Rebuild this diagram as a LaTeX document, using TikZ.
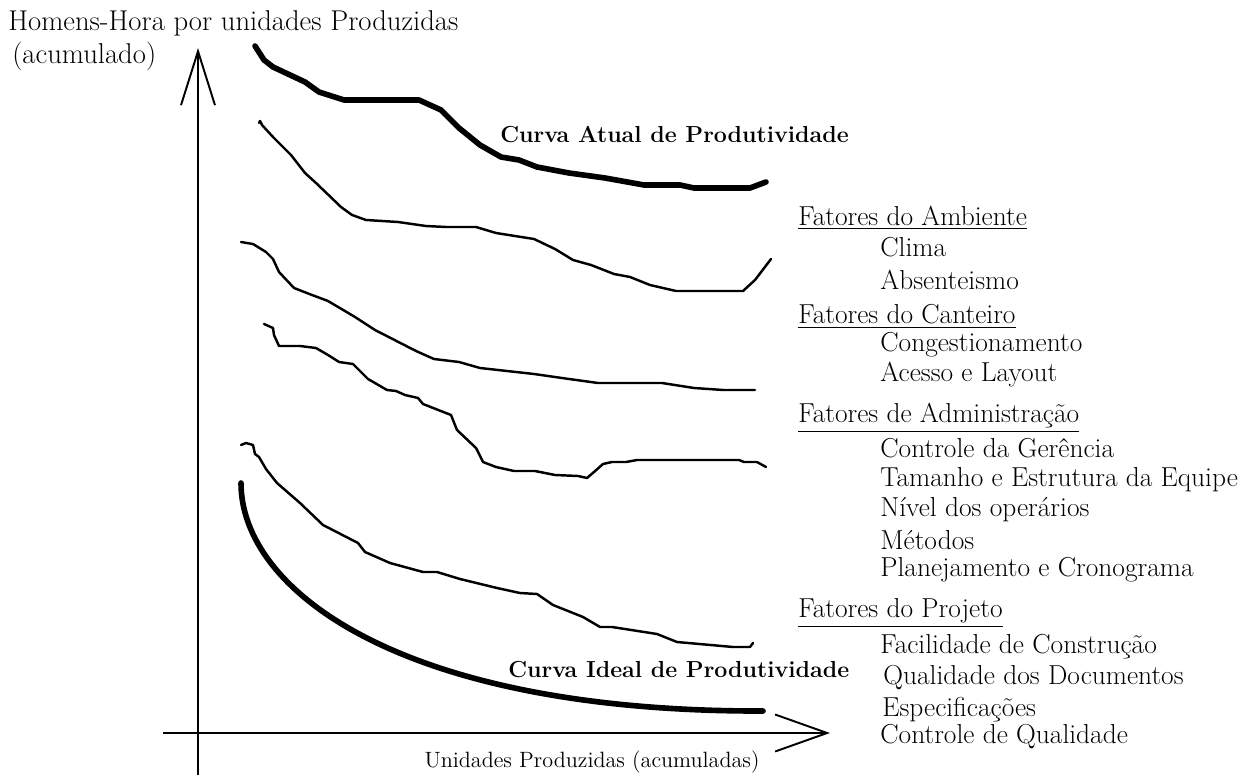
\documentclass[tikz,border=0pt]{standalone}
\usepackage{amsmath}
\usepackage{tikz}
\usetikzlibrary{arrows.meta,positioning}
\newcommand{\fonte}{\fontsize{15.6}{17}\selectfont}
\newcommand{\fontetit}{\fontsize{16.3}{18}\selectfont}
\newcommand{\fonteeixo}{\fontsize{12.6}{15}\selectfont}
\newcommand{\fontecurva}{\fontsize{13.2}{16}\selectfont\bfseries}

\begin{document}
\begin{tikzpicture}[x=0.02cm,y=-0.02cm,
	eixo/.style={line width=1.1pt},
	curva/.style={line width=1.4pt,line join=round,line cap=round},
	grossa/.style={line width=3.2pt,line join=round,line cap=round},
	texto/.style={anchor=west,inner sep=0pt,font=\fonte},
	fator/.style={texto},
	item/.style={texto}]
	\useasboundingbox (0,0) rectangle (1239,776);
	
	% eixos
	\coordinate (ybase) at (198,775);
	\coordinate (ytopo) at (198,48);
	\coordinate (xbase) at (163,733);
	\coordinate (xtopo) at (830,733);
	\draw[eixo,-{Straight Barb[length=1.08cm,width=0.68cm]}] (ybase) -- (ytopo);
	\draw[eixo,-{Straight Barb[length=1.04cm,width=0.74cm]}] (xbase) -- (xtopo);
	\node[texto,font=\fontetit] (ytit) at (8,23) {Homens-Hora por unidades Produzidas};
	\node[texto,font=\fontetit] (ytit2) at (12,56) {(acumulado)};
	\node[font=\fonteeixo,inner sep=0pt] (xtit) at (592,762) {Unidades Produzidas (acumuladas)};
	
	% curva atual
	\draw[grossa] (255,46) -- (264,60) -- (273,67) -- (305,82) -- (319,92) -- (344,100)
		-- (419,100) -- (441,110) -- (459,128) -- (480,145) -- (501,157) -- (519,160)
		-- (537,167) -- (569,173) -- (605,178) -- (644,185) -- (680,185) -- (694,188)
		-- (750,188) -- (766,182);
	\node[texto,font=\fontecurva] (atual) at (500,135) {Curva Atual de Produtividade};
	
	% fatores do ambiente
	\draw[curva] (259,123) -- (260,121) -- (262,125) -- (273,137) -- (291,155) -- (305,173)
		-- (316,183) -- (341,207) -- (352,215) -- (366,220) -- (398,222) -- (426,226)
		-- (446,227) -- (476,227) -- (496,233) -- (534,239) -- (555,249) -- (573,260)
		-- (591,265) -- (614,274) -- (630,277) -- (650,285) -- (676,291) -- (743,291)
		-- (755,280) -- (771,259);
	
	% fatores do canteiro
	\draw[curva] (241,242) -- (253,244) -- (266,252) -- (273,259) -- (279,272) -- (294,288)
		-- (312,295) -- (328,301) -- (355,317) -- (375,330) -- (416,351) -- (434,359)
		-- (459,362) -- (480,368) -- (516,372) -- (534,374) -- (569,379) -- (598,383)
		-- (662,383) -- (694,388) -- (723,390) -- (755,390);
	
	% fatores de administracao
	\draw[curva] (264,324) -- (273,328) -- (274,335) -- (279,346) -- (300,346) -- (316,348)
		-- (328,355) -- (339,362) -- (353,364) -- (368,379) -- (387,390) -- (396,391)
		-- (405,395) -- (418,398) -- (423,404) -- (451,415) -- (457,430) -- (476,448)
		-- (483,462) -- (496,467) -- (514,471) -- (535,471) -- (555,475) -- (578,476)
		-- (587,478) -- (594,472) -- (603,464) -- (612,462) -- (626,462) -- (637,460)
		-- (739,460) -- (744,462) -- (757,462) -- (766,467);
	
	% fatores do projeto
	\draw[curva] (241,445) -- (246,443) -- (253,445) -- (255,454) -- (259,457) -- (266,469)
		-- (277,483) -- (300,503) -- (323,525) -- (358,543) -- (365,552) -- (390,563)
		-- (423,572) -- (437,572) -- (460,579) -- (497,588) -- (520,593) -- (537,594)
		-- (553,605) -- (583,617) -- (600,627) -- (612,627) -- (657,634) -- (677,642)
		-- (733,647) -- (750,647) -- (753,643);
	
	% curva ideal
	\draw[grossa] (241,483) .. controls (241,590) and (400,712) .. (763,711);
	\node[texto,font=\fontecurva] (ideal) at (508,670) {Curva Ideal de Produtividade};
	
	% lista de fatores
	\node[fator] (amb) at (798,218) {\underline{Fatores do Ambiente}};
	\node[item] (clima) at (880,247) {Clima};
	\node[item] (abs) at (880,280) {Absenteismo};
	\node[fator] (cant) at (798,317) {\underline{Fatores do Canteiro}};
	\node[item] (cong) at (880,345) {Congestionamento};
	\node[item] (aces) at (880,375) {Acesso e Layout};
	\node[fator] (adm) at (798,418) {\underline{Fatores de Administração}};
	\node[item] (ger) at (880,448) {Controle da Gerência};
	\node[item] (tam) at (880,480) {Tamanho e Estrutura da Equipe};
	\node[item] (niv) at (880,510) {Nível dos operários};
	\node[item] (met) at (880,540) {Métodos};
	\node[item] (plan) at (880,570) {Planejamento e Cronograma};
	\node[fator] (proj) at (798,613) {\underline{Fatores do Projeto}};
	\node[item] (fac) at (880,647) {Facilidade de Construção};
	\node[item] (qual) at (883,678) {Qualidade dos Documentos};
	\node[item] (esp) at (882,710) {Especificações};
	\node[item] (cq) at (880,737) {Controle de Qualidade};
\end{tikzpicture}
\end{document}
